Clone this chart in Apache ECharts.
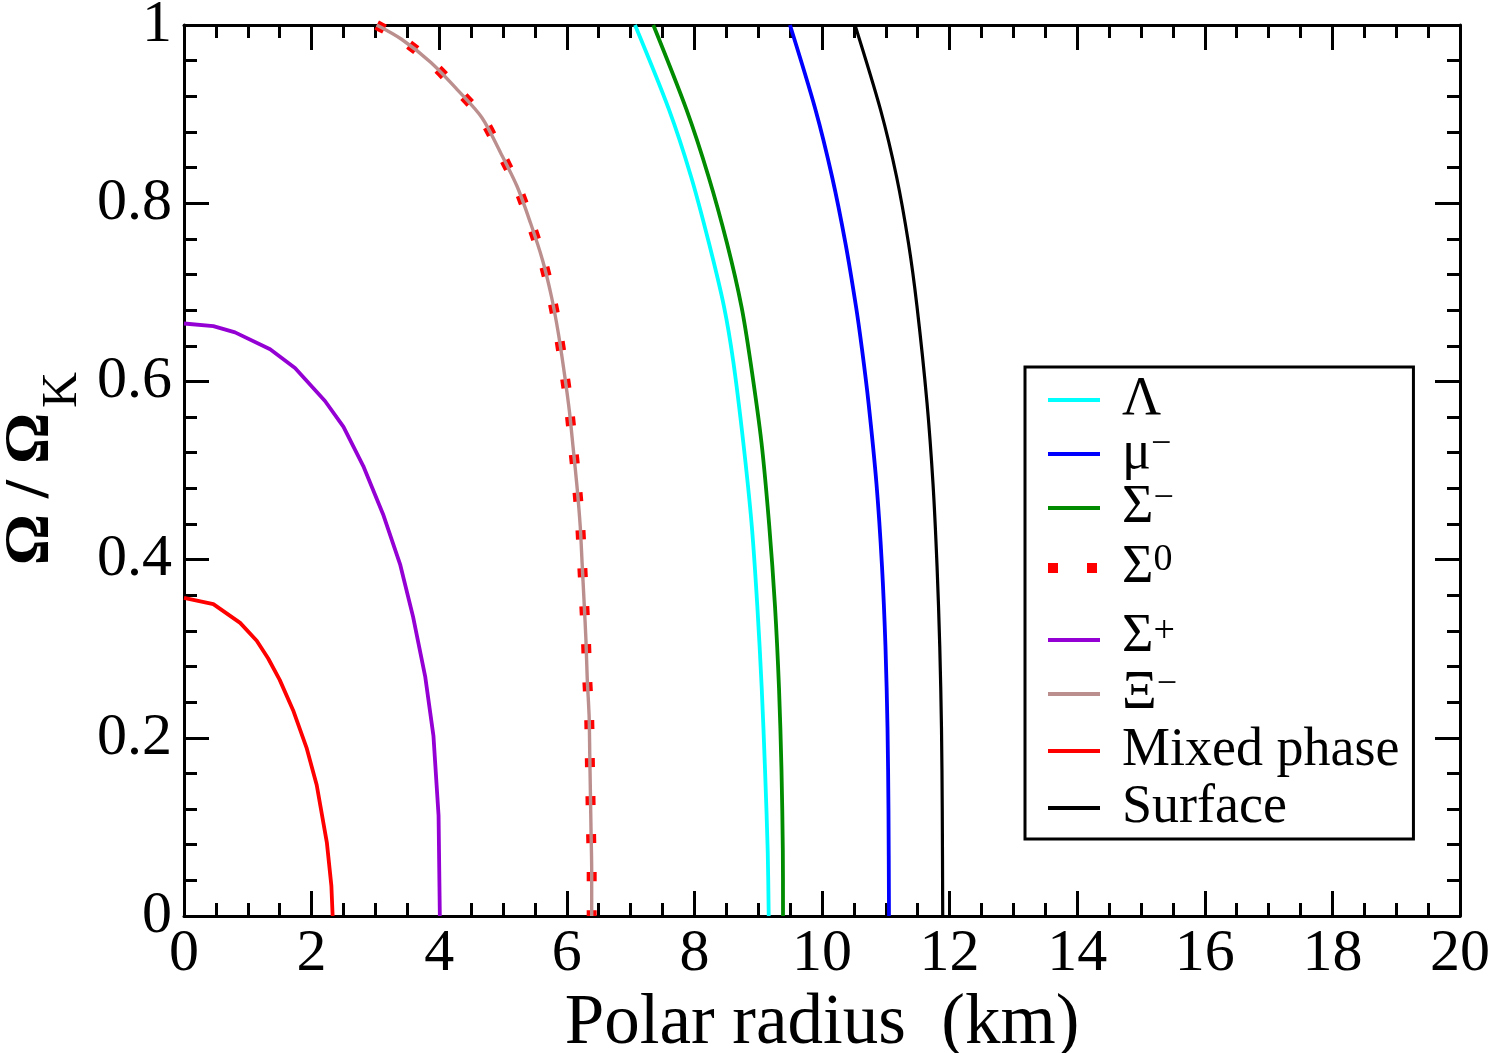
<!DOCTYPE html>
<html>
<head>
<meta charset="utf-8">
<script src="https://cdn.jsdelivr.net/npm/echarts@6/dist/echarts.min.js"></script>
<style>
html,body{margin:0;padding:0;background:#fff;}
#chart{width:1494px;height:1053px;}
</style>
</head>
<body>
<div id="chart"></div>
<script>
// ---- data (polar radius in km, Omega/Omega_K) ----
const lambdaData = [[7.069,1.0],[7.602,0.905],[7.947,0.830],[8.229,0.755],[8.464,0.684],[8.610,0.622],[8.767,0.531],[8.898,0.439],[8.986,0.348],[9.055,0.256],[9.107,0.164],[9.149,0.073],[9.165,0]];
const muData = [[9.498,1.0],[9.898,0.905],[10.157,0.830],[10.368,0.755],[10.533,0.684],[10.627,0.636],[10.729,0.576],[10.854,0.485],[10.940,0.393],[10.995,0.302],[11.027,0.210],[11.042,0.119],[11.050,0]];
const sigmaMinusData = [[7.356,1.0],[7.876,0.905],[8.221,0.830],[8.511,0.755],[8.738,0.684],[8.879,0.622],[9.052,0.531],[9.172,0.439],[9.263,0.348],[9.326,0.256],[9.365,0.164],[9.386,0.073],[9.389,0]];
const sigmaZeroData = [[3.02,1.0],[3.41,0.984],[3.87,0.958],[4.29,0.927],[4.67,0.896],[4.96,0.857],[5.22,0.819],[5.43,0.778],[5.62,0.736],[5.76,0.695],[5.87,0.653],[5.96,0.610],[6.04,0.567],[6.10,0.525],[6.16,0.482],[6.21,0.438],[6.24,0.396],[6.27,0.354],[6.30,0.310],[6.32,0.267],[6.35,0.224],[6.36,0.181],[6.37,0.138],[6.38,0.095],[6.39,0.052],[6.39,0]];
const sigmaPlusData = [[0,0.665],[0.46,0.662],[0.80,0.655],[1.35,0.636],[1.74,0.615],[2.21,0.578],[2.50,0.549],[2.81,0.505],[3.12,0.451],[3.39,0.394],[3.59,0.336],[3.78,0.269],[3.91,0.202],[3.99,0.113],[4.01,0]];
const xiData = [[3.02,1.0],[3.41,0.984],[3.87,0.958],[4.29,0.927],[4.67,0.896],[4.96,0.857],[5.22,0.819],[5.43,0.778],[5.62,0.736],[5.76,0.695],[5.87,0.653],[5.96,0.610],[6.04,0.567],[6.10,0.525],[6.16,0.482],[6.21,0.438],[6.24,0.396],[6.27,0.354],[6.30,0.310],[6.32,0.267],[6.35,0.224],[6.36,0.181],[6.37,0.138],[6.38,0.095],[6.39,0.052],[6.39,0]];
const mixedData = [[0,0.357],[0.46,0.350],[0.88,0.329],[1.14,0.309],[1.32,0.289],[1.50,0.265],[1.71,0.231],[1.92,0.189],[2.08,0.147],[2.24,0.082],[2.31,0.034],[2.33,0]];
const surfaceData = [[10.517,1.0],[10.917,0.905],[11.168,0.830],[11.356,0.755],[11.489,0.684],[11.646,0.576],[11.740,0.485],[11.803,0.393],[11.846,0.302],[11.873,0.210],[11.885,0.119],[11.892,0]];

const seriesNames = ['Lambda','mu-','Sigma-','Sigma0','Sigma+','Xi-','Mixed phase','Surface'];
const legendLabels = {
  'Lambda': '{t|Λ}',
  'mu-': '{t|μ}{s|−}',
  'Sigma-': '{t|Σ}{s|−}',
  'Sigma0': '{tA|Σ}{ss|0}',
  'Sigma+': '{tB|Σ}{ss|+}',
  'Xi-': '{t|Ξ}{s|−}',
  'Mixed phase': '{tC|Mixed phase}',
  'Surface': '{tC|Surface}'
};
const yTickLabels = {0:'0',0.2:'0.2',0.4:'0.4',0.6:'0.6',0.8:'0.8',1:'1'};
const xTickLabels = {0:'0',2:'2',4:'4',6:'6',8:'8',10:'10',12:'12',14:'14',16:'16',18:'18',20:'20'};
const xTitle = 'Polar radius  (km)';
const yTitleMain = 'Ω / Ω';
const yTitleSub = 'K';

const FONT = 'Liberation Serif';
const SIGMA0_DASH = [9, 29];

function mkSeries(name, data, color, extra) {
  return Object.assign({
    name: name, type: 'line', data: data, symbol: 'none', showSymbol: false,
    lineStyle: {color: color, width: 3.8}, itemStyle: {color: color},
    clip: true, z: 2, animation: false
  }, extra || {});
}

function mkAxis(base, split) {
  return Object.assign({
    axisLine: {show: true, onZero: false, lineStyle: {color: '#000', width: 3}},
    axisTick: {show: true, inside: true, length: 25, lineStyle: {color: '#000', width: 3}},
    minorTick: {show: true, splitNumber: split, length: 13, lineStyle: {color: '#000', width: 3}},
    splitLine: {show: false},
    minorSplitLine: {show: false}
  }, base);
}

const chart = echarts.init(document.getElementById('chart'), null, {renderer: 'canvas'});

const option = {
  backgroundColor: '#fff',
  animation: false,
  grid: {left: 184, right: 34, top: 25, bottom: 137, containLabel: false, outerBoundsMode: 'none'},
  legend: {
    show: true,
    orient: 'vertical',
    left: 1025, top: 367,
    padding: [6, 14, 4, 18],
    itemGap: 0,
    itemWidth: 52, itemHeight: 14,
    borderColor: '#000', borderWidth: 3, backgroundColor: '#fff',
    itemStyle: {opacity: 0},
    lineStyle: {width: 4},
    data: seriesNames.map(function (n) {
      return n === 'Sigma0'
        ? {name: n, lineStyle: {width: 10, type: [10, 29], cap: 'butt'}}
        : {name: n};
    }),
    formatter: function (n) { return legendLabels[n]; },
    textStyle: {
      fontFamily: FONT, color: '#000', padding: [0, 0, 0, 17],
      rich: {
        t: {fontFamily: FONT, fontSize: 54, lineHeight: 54, color: '#000', verticalAlign: 'bottom'},
        tA: {fontFamily: FONT, fontSize: 54, lineHeight: 54, padding: [6, 0, 0, 0], color: '#000', verticalAlign: 'bottom'},
        tB: {fontFamily: FONT, fontSize: 54, lineHeight: 54, padding: [15, 0, 3, 0], color: '#000', verticalAlign: 'bottom'},
        tC: {fontFamily: FONT, fontSize: 54, lineHeight: 54, padding: [3, 0, 0, 0], color: '#000', verticalAlign: 'bottom'},
        s: {fontFamily: FONT, fontSize: 36, lineHeight: 36, color: '#000', verticalAlign: 'top'},
        ss: {fontFamily: FONT, fontSize: 38, lineHeight: 38, color: '#000', verticalAlign: 'top'}
      }
    }
  },
  xAxis: [
    mkAxis({
      type: 'value', position: 'bottom', min: 0, max: 20, interval: 2,
      axisLabel: {show: true, margin: 8, color: '#000', fontFamily: FONT, fontSize: 60,
        formatter: function (v) { return xTickLabels[v] !== undefined ? xTickLabels[v] : ''; }},
      name: xTitle, nameLocation: 'middle', nameGap: 56,
      nameTextStyle: {fontFamily: FONT, fontSize: 71, color: '#000'}
    }, 4),
    mkAxis({
      type: 'value', position: 'top', min: 0, max: 20, interval: 2,
      axisLabel: {show: false}
    }, 4)
  ],
  yAxis: [
    mkAxis({
      type: 'value', position: 'left', min: 0, max: 1, interval: 0.2,
      axisLabel: {show: true, margin: 12, color: '#000', fontFamily: FONT, fontSize: 60,
        formatter: function (v) { const k = Math.round(v * 10) / 10; return yTickLabels[k] !== undefined ? yTickLabels[k] : ''; }}
    }, 5),
    mkAxis({
      type: 'value', position: 'right', min: 0, max: 1, interval: 0.2,
      axisLabel: {show: false}
    }, 5)
  ],
  graphic: [
    {type: 'text', x: 31, y: 489, rotation: Math.PI / 2,
      style: {text: yTitleMain, font: 'bold 64px "Liberation Serif"', fill: '#000', textAlign: 'center', textVerticalAlign: 'middle'}},
    {type: 'text', x: 63, y: 390, rotation: Math.PI / 2,
      style: {text: yTitleSub, font: '50px "Liberation Serif"', fill: '#000', textAlign: 'center', textVerticalAlign: 'middle'}}
  ],
  series: [
    mkSeries('Lambda', lambdaData, '#00FFFF', {smooth: 0.3}),
    mkSeries('mu-', muData, '#0000FF', {smooth: 0.3}),
    mkSeries('Sigma-', sigmaMinusData, '#008B00', {smooth: 0.3}),
    mkSeries('Sigma0', sigmaZeroData, '#FF0000', {smooth: 0.3, lineStyle: {color: '#FF0000', width: 10, type: SIGMA0_DASH, cap: 'butt'}}),
    mkSeries('Sigma+', sigmaPlusData, '#9400D3'),
    mkSeries('Xi-', xiData, '#BC8F8F', {smooth: 0.3, lineStyle: {color: '#BC8F8F', width: 3.4}}),
    mkSeries('Mixed phase', mixedData, '#FF0000'),
    mkSeries('Surface', surfaceData, '#000000', {smooth: 0.3, lineStyle: {color: '#000000', width: 3.2}})
  ]
};
chart.setOption(option);
</script>
</body>
</html>
